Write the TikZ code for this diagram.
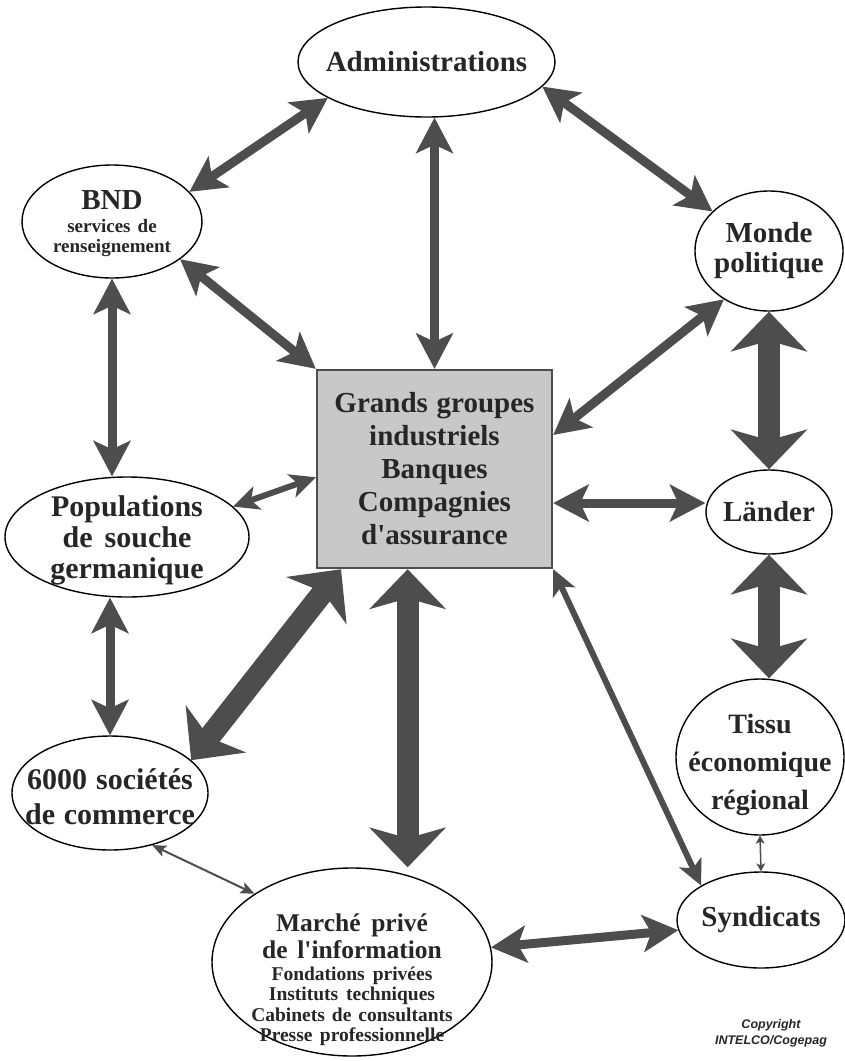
\documentclass[tikz,border=0pt]{standalone}
\usepackage{fontspec}
\setmainfont{Liberation Serif}[Ligatures=TeXOff]
\newfontfamily\copyfont{Liberation Sans}
\usetikzlibrary{arrows.meta,shapes.geometric}

\definecolor{arrc}{HTML}{4D4D4D}
\definecolor{inkc}{HTML}{262626}
\definecolor{boxfill}{HTML}{C8C8C8}
% size, line spacing and word spacing
\newcommand\fs[2]{\fontsize{#1}{#2}\selectfont\spaceskip=0.26em plus 0.05em minus 0.02em\relax}

\tikzset{
  headthick/.tip={Stealth[length=40pt,width=77pt,inset=11pt,line width=0pt]},
  headmed/.tip={Stealth[length=36pt,width=38pt,inset=9pt,line width=0pt]},
  headsmall/.tip={Stealth[length=26pt,width=25pt,inset=7pt,line width=0pt]},
  headthin/.tip={Stealth[length=14pt,width=12pt,inset=3pt,line width=0pt]},
  headtiny/.tip={Stealth[length=8pt,width=9pt,inset=2pt,line width=0pt]},
  athick/.style={draw=arrc,line width=22pt,headthick-headthick},
  amed/.style={draw=arrc,line width=9pt,headmed-headmed},
  asmall/.style={draw=arrc,line width=6pt,headsmall-headsmall},
  athin/.style={draw=arrc,line width=2pt,headthin-headthin},
  atiny/.style={draw=arrc,line width=1.5pt,headtiny-headtiny},
  oval/.style={ellipse,draw=black,line width=1.4pt,inner sep=0pt},
  lbl/.style={text=inkc,align=center,font=\bfseries,inner sep=0pt,text width=#1},
  lbl/.default=260pt,
}

\begin{document}
\begin{tikzpicture}[x=1pt,y=-1pt]
\fill[white] (0,0) rectangle (845,1061);
\useasboundingbox (0,0) rectangle (845,1061);

% ellipses
\node[oval,minimum width=257pt,minimum height=110pt] (admin) at (426.5,62) {};
\node[oval,minimum width=180pt,minimum height=113pt] (bnd) at (112,221.5) {};
\node[oval,minimum width=148pt,minimum height=120pt] (monde) at (769,251) {};
\node[oval,minimum width=244pt,minimum height=120pt] (pop) at (127,537) {};
\node[oval,minimum width=126pt,minimum height=84pt] (laender) at (769,512) {};
\node[oval,minimum width=196pt,minimum height=114pt] (sixk) at (110,793) {};
\node[oval,minimum width=168pt,minimum height=156pt] (tissu) at (760,757) {};
\node[oval,minimum width=280pt,minimum height=188pt] (marche) at (352,962) {};
\node[oval,minimum width=168pt,minimum height=96pt] (syn) at (761,920) {};

% central box
\node[draw=arrc,line width=2.5pt,fill=boxfill,minimum width=235pt,minimum height=198pt,
      inner sep=0pt,text width=235pt,align=center,text=inkc,font=\bfseries] (box) at (434.5,469)
  {\fs{29}{33}Grands groupes\\industriels\\Banques\\Compagnies\\d'assurance\par};

% labels
\node[lbl] (admin-t) at (admin) {\fs{29}{33}Administrations\par};
\node[lbl=180pt] (bnd-t) at ([yshift=-2pt]bnd.center)
  {\fs{29}{33}BND\par\vspace{3pt}{\fs{19}{20}services de\\renseignement\par}};
\node[lbl=150pt] (monde-t) at (monde) {\fs{29}{30}Monde\\politique\par};
\node[lbl=244pt] (pop-t) at ([yshift=-3pt]pop.center) {\fs{30}{31}Populations\\de souche\\germanique\par};
\node[lbl=130pt] (laender-t) at (laender) {\fs{29}{33}Länder\par};
\node[lbl=196pt] (sixk-t) at ([yshift=-4pt]sixk.center) {\fs{30}{35}6000 sociétés\\de commerce\par};
\node[lbl=170pt] (tissu-t) at ([yshift=-8pt]tissu.center) {\fs{28}{38}Tissu\\économique\\régional\par};
\node[lbl=280pt] (marche-t) at ([yshift=-18pt]marche.center)
  {{\fs{25.5}{27}Marché privé\\de l'information\par}\vspace{1pt}{\fs{19.5}{20.5}Fondations privées\\Instituts techniques\\Cabinets de consultants\\Presse professionnelle\par}};
\node[lbl=168pt] (syn-t) at (syn) {\fs{29}{33}Syndicats\par};

\node[text=inkc,align=center,inner sep=0pt,font=\copyfont\bfseries\itshape\fs{12.5}{16}] (copy) at (771,1033)
  {Copyright\\INTELCO/Cogepag};

% connectors
\draw[amed] (admin.200) -- (bnd.21);
\draw[amed] (box.north |- admin.south) -- (box.north);
\draw[amed] (admin.-12) -- (monde.145);
\draw[amed] (bnd.-29) -- (box.north west);
\draw[amed] (bnd.south) -- (bnd.south |- pop.north);
\draw[amed] (monde.227) -- (box.16);
\draw[athick] (monde.south) -- (laender.north);
\draw[asmall] (pop.16) -- (box.184);
\draw[amed] (box.-16) -- (box.-16 -| laender.west);
\draw[athick] (laender.south) -- (laender.south |- tissu.north);
\draw[amed] (sixk.north |- pop.south) -- (sixk.north);
\draw[athick] (box.227) -- (sixk.22);
\draw[athick] (box.255) -- (box.255 |- marche.north);
\draw[asmall] (box.south east) -- (syn.north west);
\draw[athin] (sixk.-51) -- (marche.145);
\draw[amed] (marche.6) -- (syn.187);
\draw[atiny] (tissu.south) -- (syn.north);
\end{tikzpicture}
\end{document}
